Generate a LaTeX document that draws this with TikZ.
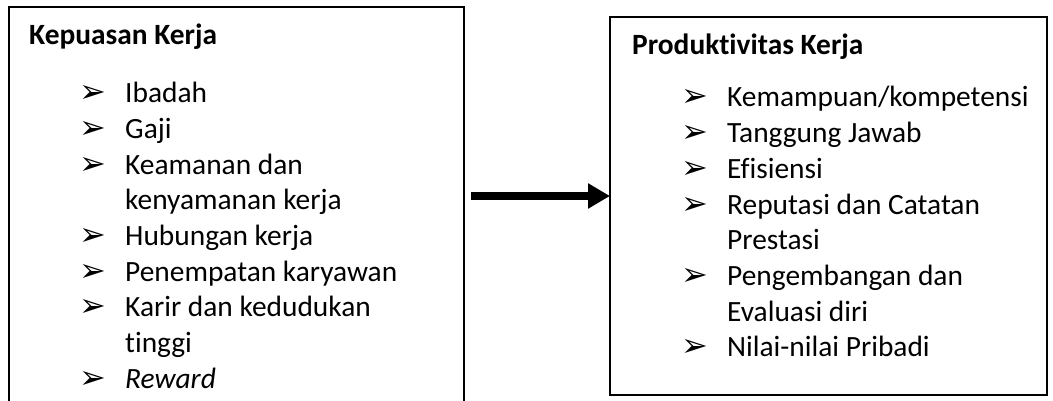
\documentclass[tikz,border=0pt]{standalone}
\usepackage{fontspec}
\setmainfont{Carlito}[Ligatures=NoCommon]
\newfontfamily\dejavu{DejaVu Sans}
\usetikzlibrary{positioning, arrows.meta}

\newcommand{\blt}{{\dejavu\fontsize{32pt}{32pt}\selectfont ➢}}
\newcommand{\butir}{\makebox[46pt][l]{\blt}}
\newcommand{\lanjut}{\hspace*{46pt}}

\begin{document}
\begin{tikzpicture}[x=1pt, y=1pt,
    kotak/.style={draw, line width=1.8pt, rectangle, anchor=north west, inner sep=0pt, outer sep=0pt},
    judul/.style={font=\fontsize{29.4pt}{35pt}\selectfont\bfseries, anchor=base west, inner sep=0pt},
    baris/.style={font=\fontsize{29.4pt}{35pt}\selectfont, anchor=base west, inner sep=0pt},
    panah/.style={line width=8pt, -{Triangle[length=22pt, width=24pt]}}]
    \useasboundingbox (0,0) rectangle (1053,401);
    \clip (0,0) rectangle (1053,401);

    % kotak kiri dan kanan
    \node[kotak, minimum width=455pt, minimum height=430pt] (kepuasan) at (9,394) {};
    \node[kotak, minimum width=437pt, minimum height=378pt] (produktivitas) at (610,384) {};

    % isi kotak kiri
    \node[judul] (judulkiri) at (29,356) {Kepuasan Kerja};
    \foreach \teks [count=\i from 0] in {\butir Ibadah, \butir Gaji, \butir Keamanan dan,
        \lanjut kenyamanan kerja, \butir Hubungan kerja, \butir Penempatan karyawan,
        \butir Karir dan kedudukan, \lanjut tinggi, \butir \textit{Reward}}
        \node[baris] (kiri\i) at (79, 298-35.65*\i) {\teks};

    % isi kotak kanan
    \node[judul] (judulkanan) at (632,346) {Produktivitas Kerja};
    \foreach \teks [count=\i from 0] in {\butir Kemampuan/kompetensi, \butir Tanggung Jawab,
        \butir Efisiensi, \butir Reputasi dan Catatan, \lanjut Prestasi,
        \butir Pengembangan dan, \lanjut Evaluasi diri, \butir Nilai-nilai Pribadi}
        \node[baris] (kanan\i) at (681, 294-35.7*\i) {\teks};

    % panah
    \coordinate (tengah) at (0,205);
    \draw[panah, shorten <=7pt] (kepuasan.east |- tengah) -- (produktivitas.west |- tengah);
\end{tikzpicture}
\end{document}
